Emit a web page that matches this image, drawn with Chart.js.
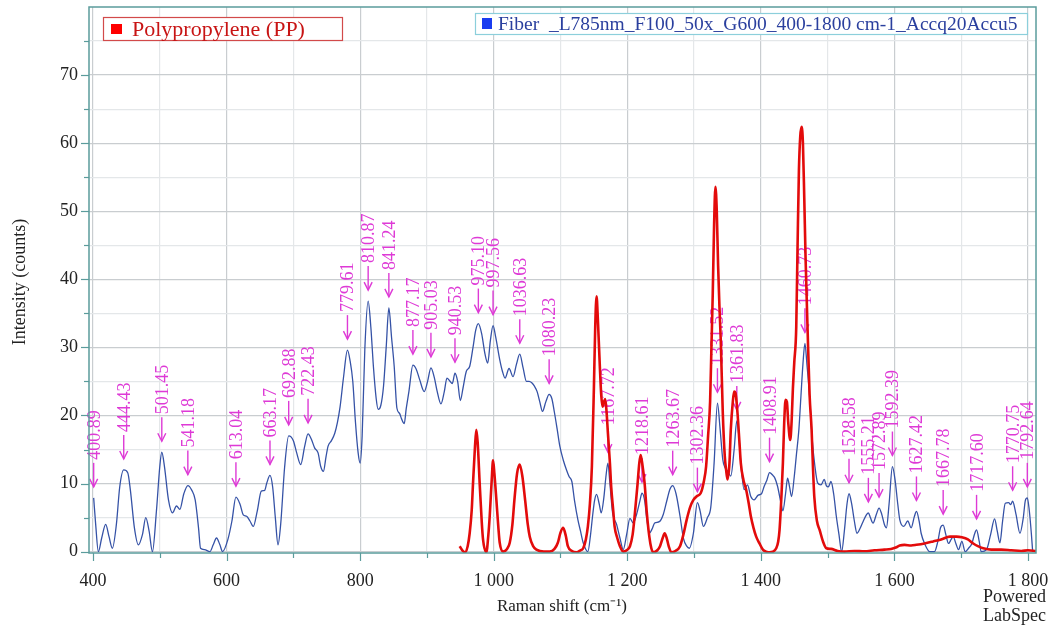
<!DOCTYPE html>
<html>
<head>
<meta charset="utf-8">
<script src="https://cdn.jsdelivr.net/npm/chart.js@4.4.0/dist/chart.umd.min.js"></script>
<style>
  html, body { margin: 0; padding: 0; background: #fff; }
  #wrap { width: 1054px; height: 627px; position: relative; }
</style>
</head>
<body>
<div id="wrap"><canvas id="spectre"></canvas></div>
<script>
// Fiber spectrum (blue)
const fibreShift = [401, 404, 408, 413, 419, 424, 429, 435, 440, 446, 452, 456, 462, 468, 474, 479, 484, 489, 495, 500,
  503, 507, 513, 519, 525, 530, 536, 542, 548, 553, 558, 561, 567, 575, 580, 585, 590, 594, 602, 608,
  614, 620, 625, 630, 635, 640, 646, 652, 657, 660, 665, 669, 673, 677, 681, 687, 693, 700, 705, 711,
  717, 722, 727, 732, 737, 741, 745, 749, 752, 757, 762, 766, 770, 775, 781, 785, 789, 793, 797, 800,
  803, 807, 812, 816, 820, 824, 827, 831, 835, 839, 843, 847, 851, 855, 859, 862, 866, 869, 873, 879,
  884, 889, 896, 901, 906, 911, 915, 921, 926, 930, 934, 938, 942, 946, 950, 954, 959, 964, 969, 973,
  977, 982, 987, 991, 995, 999, 1003, 1009, 1013, 1017, 1023, 1029, 1034, 1039, 1044, 1049, 1053, 1057, 1061, 1065,
  1069, 1073, 1078, 1083, 1087, 1091, 1095, 1099, 1104, 1109, 1113, 1117, 1121, 1126, 1130, 1134, 1141, 1145, 1148, 1151,
  1154, 1158, 1161, 1165, 1168, 1171, 1174, 1178, 1184, 1189, 1194, 1199, 1204, 1209, 1214, 1219, 1222, 1226, 1229, 1233,
  1237, 1241, 1248, 1254, 1259, 1264, 1268, 1273, 1279, 1284, 1289, 1293, 1299, 1305, 1309, 1314, 1320, 1325, 1330, 1335,
  1339, 1343, 1347, 1350, 1355, 1360, 1364, 1367, 1370, 1375, 1380, 1385, 1390, 1396, 1401, 1405, 1409, 1413, 1418, 1421,
  1425, 1430, 1433, 1437, 1440, 1443, 1446, 1450, 1453, 1457, 1460, 1463, 1466, 1469, 1473, 1477, 1481, 1485, 1490, 1495,
  1498, 1501, 1505, 1509, 1513, 1517, 1521, 1525, 1529, 1532, 1536, 1540, 1544, 1549, 1553, 1558, 1561, 1564, 1568, 1573,
  1577, 1581, 1585, 1588, 1592, 1597, 1601, 1605, 1608, 1614, 1620, 1625, 1630, 1633, 1637, 1640, 1646, 1653, 1660, 1665,
  1669, 1673, 1677, 1681, 1685, 1688, 1692, 1696, 1701, 1706, 1711, 1716, 1720, 1723, 1727, 1730, 1738, 1744, 1750, 1754,
  1758, 1762, 1766, 1771, 1774, 1777, 1782, 1788, 1793, 1796, 1799, 1802, 1805, 1807];
const fibreCounts = [7.9, 4, 0, 2, 4.0, 2.2, 0.5, 4, 9.5, 12.0, 11.6, 9, 3.5, 1.0, 2.5, 5.0, 3.0, 0, 6, 12.5,
  14.6, 12.5, 7.6, 5.7, 6.7, 6.2, 8.5, 9.7, 9.0, 7.6, 3.5, 0.5, 0.3, 0, 1.0, 2.0, 1.0, 0, 1.8, 4.5,
  8.0, 7.0, 5.4, 5.2, 4.5, 3.7, 6, 8.9, 9.0, 10, 11.2, 9.5, 5, 1.0, 4, 12.5, 17.0, 16.3, 14.5, 12.8,
  15.5, 17.3, 16.5, 15.2, 14.5, 12.5, 11.8, 14, 15.5, 16.3, 17.4, 19, 21.3, 25.5, 29.6, 28, 25, 19, 14.5, 13.0,
  17, 29.7, 36.8, 33, 27, 22.5, 20.9, 21.5, 24.3, 30, 35.8, 31.5, 27.2, 21.1, 20.3, 19.5, 18.8, 21, 23.5, 27.4,
  26.8, 25.3, 23.5, 25, 27, 25.6, 23.7, 21.7, 23.5, 25.5, 25.1, 24.7, 26.2, 25, 22.2, 24, 26.5, 27.2, 30, 32.5,
  33.5, 32, 29, 27.7, 31, 33.2, 31.5, 28.2, 26.5, 25.5, 26.9, 25.7, 27.5, 29.0, 27, 25.0, 25, 24.8, 24.3, 23.5,
  22, 20.6, 22, 23.1, 22.5, 20.4, 18, 15.5, 13.5, 12.0, 11, 10.3, 7.5, 4.7, 3, 1.3, 0, 2.5, 5.2, 7.5,
  8.4, 7, 5.7, 8, 11, 13.0, 10, 5.7, 4.0, 2, 0.3, 2.5, 4.9, 4.2, 5.5, 7.5, 8.6, 7.5, 5, 2.7,
  3.3, 4.2, 4.4, 5.5, 7.4, 9.2, 9.7, 8.5, 5.2, 2.0, 0.8, 0.5, 2.7, 7.2, 6, 3.7, 5, 6.5, 13, 21.8,
  18, 13.5, 12.2, 11.9, 11.1, 15, 19.2, 17, 13, 9.1, 9.8, 8.1, 7.6, 8.3, 8.5, 9.6, 10.5, 11.6, 11.2, 10.8,
  9.6, 7.2, 6.0, 8.5, 10.8, 9.5, 8.1, 11, 14, 18, 22.8, 27.5, 30.6, 27.5, 22.8, 16.4, 12.5, 10.1, 9.8, 10.6,
  9.7, 9.5, 10.3, 8.5, 5.2, 2.5, 0, 3, 7, 8.5, 7, 4.5, 2.7, 3.5, 4.4, 5.4, 5.7, 5, 4.2, 5.5,
  6.4, 5.5, 4, 3.5, 7, 12.5, 10.5, 7, 4.7, 3.7, 4.5, 3.5, 5.2, 5.9, 4.5, 2.7, 1, 0, 0, 1.5,
  3.5, 3.9, 2.5, 1.2, 1.8, 2.2, 1.2, 0.3, 1.5, 0, 0.5, 1.2, 2.6, 3.2, 1.5, 0, 0.3, 2.5, 4.8, 3,
  1.3, 4.5, 7.1, 7.2, 6.9, 7.4, 5.5, 2.7, 5, 7.5, 7.9, 6, 2.7, 0];

// Polypropylene reference (red)
const ppShift = [949, 953, 957, 961, 964, 967, 969, 972, 974, 976, 979, 982, 984, 989, 992, 994, 997, 999, 1001, 1004,
  1007, 1009, 1014, 1020, 1024, 1028, 1031, 1035, 1039, 1043, 1047, 1051, 1054, 1059, 1064, 1075, 1084, 1091, 1096, 1100,
  1104, 1108, 1111, 1117, 1124, 1130, 1134, 1138, 1141, 1144, 1147, 1150, 1152, 1154, 1156, 1159, 1161, 1163, 1165, 1167,
  1169, 1171, 1174, 1176, 1179, 1181, 1185, 1189, 1194, 1199, 1204, 1208, 1211, 1215, 1218, 1220, 1223, 1226, 1229, 1233,
  1236, 1239, 1245, 1249, 1253, 1256, 1259, 1262, 1266, 1272, 1279, 1284, 1289, 1294, 1299, 1305, 1310, 1315, 1318, 1321,
  1324, 1326, 1328, 1330, 1332, 1334, 1336, 1338, 1340, 1343, 1346, 1348, 1350, 1353, 1355, 1358, 1360, 1362, 1365, 1368,
  1370, 1374, 1378, 1382, 1385, 1389, 1393, 1398, 1403, 1408, 1413, 1418, 1423, 1426, 1428, 1431, 1433, 1435, 1437, 1439,
  1441, 1444, 1446, 1448, 1450, 1453, 1455, 1457, 1459, 1461, 1463, 1465, 1467, 1470, 1473, 1476, 1478, 1480, 1484, 1488,
  1493, 1498, 1505, 1515, 1525, 1540, 1555, 1570, 1585, 1595, 1602, 1608, 1615, 1625, 1633, 1645, 1658, 1670, 1683, 1693,
  1701, 1710, 1718, 1725, 1733, 1745, 1760, 1775, 1790, 1800, 1812];
const ppCounts = [0.8, 0.2, -0.1, 0.8, 2.7, 6, 10, 15.5, 17.9, 16, 10, 4.5, 1.8, -0.1, 2.5, 5.2, 10.5, 13.4, 11.5, 7.6,
  3.5, 1.3, 0, 0.4, 1.3, 4, 7.6, 11.5, 12.8, 11, 7.6, 4, 2.2, 0.8, 0.3, 0, 0, 0.4, 1.3, 2.8,
  3.5, 2.3, 0.8, 0.1, -0.1, 0.2, 0.5, 1.8, 3.7, 7, 12.5, 24, 33, 37.5, 34, 27, 23, 21.3, 22, 22.4,
  20.5, 17.4, 13, 9.4, 6, 3.7, 2, 0.8, 0, 0.2, 0.8, 2.5, 5.2, 9.5, 13, 14.2, 12.5, 10, 6, 2.2,
  0.5, -0.1, 0.2, 0.8, 2, 2.7, 2, 0.8, -0.1, 0.1, 0.8, 2.5, 4.7, 6.5, 7.6, 8.2, 8.6, 10.5, 12.5, 17,
  22, 30, 38, 48, 53.6, 50, 42, 36, 31, 20.4, 14, 12, 10.6, 13, 17.9, 22, 23.5, 23.3, 20.4, 16,
  13, 10.5, 9.1, 7, 5.2, 3.5, 2.2, 1.2, 0.3, 0, -0.1, 0, 0.5, 1.5, 3.2, 8.5, 13, 19, 22.3, 22,
  19, 16.4, 19, 24, 27.7, 33, 45, 56, 61, 62.4, 60, 52, 43, 32.6, 23, 17.9, 12.5, 8.1, 4.5, 3.2,
  1.5, 0.5, 0.4, 0.1, 0, 0.1, 0.05, 0.2, 0.3, 0.4, 0.6, 0.9, 1.0, 0.9, 1.0, 1.2, 1.5, 1.8, 2.2, 2.2,
  2.1, 1.8, 1.2, 0.8, 0.5, 0.3, 0.3, 0.2, 0.1, 0.2, 0.1];

// peak labels: where the arrow sits (on the blue curve) and the printed text
const peakPos = [401, 446, 503, 542, 614, 665, 693, 722, 781, 812, 843, 879, 906, 942, 977, 999, 1039, 1083,
  1171, 1222, 1268, 1305, 1335, 1364, 1413, 1466, 1532, 1561, 1577, 1597, 1633, 1673, 1723, 1777, 1799];
const peakText = ['400.89', '444.43', '501.45', '541.18', '613.04', '663.17', '692.88', '722.43', '779.61', '810.87',
  '841.24', '877.17', '905.03', '940.53', '975.10', '997.56', '1036.63', '1080.23', '1167.72', '1218.61',
  '1263.67', '1302.36', '1331.52', '1361.83', '1408.91', '1460.73', '1528.58', '1555.21', '1572.89', '1592.39',
  '1627.42', '1667.78', '1717.60', '1770.75', '1792.64'];

const xTicks = [400, 500, 600, 700, 800, 900, 1000, 1100, 1200, 1300, 1400, 1500, 1600, 1700, 1800];
const yTicks = [0, 5, 10, 15, 20, 25, 30, 35, 40, 45, 50, 55, 60, 65, 70, 75];

const SERIF = '"Liberation Serif", "Times New Roman", serif';
const FRAME = '#5b9c9c';
const MAGENTA = '#de3ad6';

const fibrePoints = fibreShift.map((x, i) => ({ x, y: fibreCounts[i] }));
const ppPoints = ppShift.map((x, i) => ({ x, y: ppCounts[i] }));

function espaceMilliers(v) {
    return String(v).replace(/\B(?=(\d{3})+(?!\d))/g, ' ');
}

const decor = {
    id: 'decor',
    beforeDatasetsDraw(chart) {
        const { ctx, scales: { x, y } } = chart;
        ctx.save();
        ctx.fillStyle = MAGENTA;
        ctx.strokeStyle = MAGENTA;
        ctx.lineWidth = 1.4;
        ctx.font = '18px ' + SERIF;
        peakPos.forEach((p, i) => {
            const idx = fibreShift.indexOf(p);
            const px = x.getPixelForValue(p);
            const tip = y.getPixelForValue(fibreCounts[idx]) - 11;
            ctx.beginPath();
            ctx.moveTo(px, tip - 24);
            ctx.lineTo(px, tip);
            ctx.stroke();
            ctx.beginPath();
            ctx.moveTo(px - 4, tip - 8);
            ctx.lineTo(px, tip);
            ctx.lineTo(px + 4, tip - 8);
            ctx.stroke();
            ctx.save();
            ctx.translate(px, tip - 27);
            ctx.rotate(-Math.PI / 2);
            ctx.textAlign = 'left';
            ctx.textBaseline = 'alphabetic';
            ctx.fillText(peakText[i], 0, 6);
            ctx.restore();
        });
        ctx.restore();
    },
    afterDraw(chart) {
        const { ctx, chartArea: a, scales: { x, y } } = chart;
        ctx.save();
        // cadre
        ctx.strokeStyle = FRAME;
        ctx.lineWidth = 1.5;
        ctx.strokeRect(a.left, a.top, a.right - a.left, a.bottom - a.top);
        // graduations
        ctx.lineWidth = 1.2;
        yTicks.forEach(v => {
            const py = Math.round(y.getPixelForValue(v)) + 0.5;
            const len = v % 10 === 0 ? 8 : 5;
            ctx.beginPath(); ctx.moveTo(a.left - len, py); ctx.lineTo(a.left, py); ctx.stroke();
        });
        xTicks.forEach(v => {
            const px = Math.round(x.getPixelForValue(v)) + 0.5;
            const len = v % 200 === 0 ? 8 : 5;
            ctx.beginPath(); ctx.moveTo(px, a.bottom); ctx.lineTo(px, a.bottom + len); ctx.stroke();
        });

        // titres des axes
        ctx.fillStyle = '#222';
        ctx.font = '18px ' + SERIF;
        ctx.textAlign = 'center';
        ctx.textBaseline = 'middle';
        ctx.save();
        ctx.translate(20, 282);
        ctx.rotate(-Math.PI / 2);
        ctx.fillText('Intensity (counts)', 0, 0);
        ctx.restore();
        ctx.font = '17px ' + SERIF;
        ctx.fillText('Raman shift (cm\u207B\u00B9)', 562, 607);
        ctx.font = '18px ' + SERIF;
        ctx.textAlign = 'right';
        ctx.fillText('Powered', 1046, 597);
        ctx.fillText('LabSpec', 1046, 616);

        // légendes
        const ds = chart.data.datasets;
        ctx.textAlign = 'left';
        ctx.fillStyle = '#fff';
        ctx.fillRect(103, 17, 240, 24);
        ctx.strokeStyle = '#d24a4a';
        ctx.lineWidth = 1.2;
        ctx.strokeRect(103.5, 17.5, 239, 23);
        ctx.fillStyle = '#ff0000';
        ctx.fillRect(111, 24, 11, 10);
        ctx.fillStyle = '#c81414';
        ctx.font = '22px ' + SERIF;
        ctx.fillText(ds[0].label, 132, 30);

        ctx.fillStyle = '#fff';
        ctx.fillRect(475, 13, 553, 22);
        ctx.strokeStyle = '#8ccfdb';
        ctx.strokeRect(475.5, 13.5, 552, 21);
        ctx.fillStyle = '#1a3cf0';
        ctx.fillRect(482, 18, 10, 11);
        ctx.fillStyle = '#2a3f9e';
        ctx.font = '19.5px ' + SERIF;
        ctx.fillText(ds[1].label, 498, 25);
        ctx.restore();
    }
};

new Chart(document.getElementById('spectre'), {
    type: 'line',
    data: {
        datasets: [{
            label: 'Polypropylene (PP)',
            data: ppPoints,
            borderColor: '#e30b0b',
            borderWidth: 2.6,
            pointRadius: 0,
            cubicInterpolationMode: 'monotone',
            fill: false
        }, {
            label: 'Fiber  _L785nm_F100_50x_G600_400-1800 cm-1_Accq20Accu5',
            data: fibrePoints,
            borderColor: '#3552a6',
            borderWidth: 1.3,
            pointRadius: 0,
            cubicInterpolationMode: 'monotone',
            fill: false
        }]
    },
    options: {
        responsive: true,
        maintainAspectRatio: false,
        animation: false,
        layout: { padding: { left: 0, right: 18, top: 7, bottom: 0 } },
        plugins: {
            legend: { display: false },
            tooltip: { enabled: false }
        },
        scales: {
            x: {
                type: 'linear',
                min: 394,
                max: 1812,
                afterBuildTicks: s => { s.ticks = xTicks.map(v => ({ value: v })); },
                afterFit: s => {
                    s.height = 74;
                    s.paddingLeft = 0;
                    s.paddingRight = 0;
                },
                border: { display: false },
                grid: {
                    drawTicks: false,
                    color: c => (c.tick && c.tick.value % 200 === 0) ? '#c9cdd0' : '#e4e7e9',
                    lineWidth: 1.2
                },
                ticks: {
                    autoSkip: false,
                    maxRotation: 0,
                    padding: 17,
                    color: '#222',
                    font: { family: SERIF, size: 18 },
                    callback: v => v % 200 === 0 ? espaceMilliers(v) : ''
                }
            },
            y: {
                min: -0.2,
                max: 80,
                afterBuildTicks: s => { s.ticks = yTicks.map(v => ({ value: v })); },
                afterFit: s => {
                    s.width = 89;
                    s.paddingTop = 0;
                    s.paddingBottom = 0;
                },
                border: { display: false },
                grid: {
                    drawTicks: false,
                    color: c => (c.tick && c.tick.value % 10 === 0) ? '#c9cdd0' : '#e4e7e9',
                    lineWidth: 1.2
                },
                ticks: {
                    autoSkip: false,
                    padding: 11,
                    color: '#222',
                    font: { family: SERIF, size: 18 },
                    callback: v => v % 10 === 0 ? v : ''
                }
            }
        }
    },
    plugins: [decor]
});
</script>
</body>
</html>
